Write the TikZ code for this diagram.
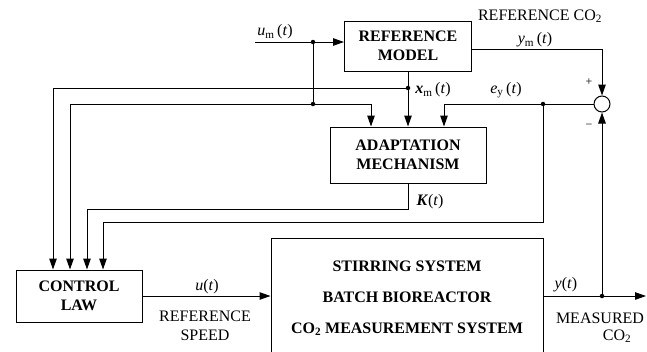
\documentclass[tikz,border=0pt]{standalone}
\usepackage{fontspec}
\setmainfont{Liberation Serif}
\usetikzlibrary{arrows.meta}
\newcommand\fs{\fontsize{16}{19}\selectfont}
\begin{document}
\begin{tikzpicture}[x=1pt,y=-1pt,
  every node/.style={font=\fs},
  box/.style={draw, line width=1pt, font=\fs\bfseries, align=center, inner sep=0pt},
  wire/.style={line width=1pt},
  arr/.style={wire, -{Triangle[length=11pt,width=7.5pt]}},
  dot/.style={circle, fill, inner sep=0pt, minimum size=4.5pt},
  lbl/.style={inner sep=0pt, align=center}]
\useasboundingbox (0,0) rectangle (647,351);

% blocks
\node[box, minimum width=127pt, minimum height=50pt] (ref) at (408,46) {REFERENCE\\MODEL};
\node[box, minimum width=156pt, minimum height=56pt] (ad) at (408,155) {ADAPTATION\\MECHANISM};
\node[box, minimum width=126pt, minimum height=52pt] (cl) at (79,296) {CONTROL\\LAW};
\node[box, minimum width=272pt, minimum height=120pt] (pl) at (407,298)
  {STIRRING SYSTEM\\[12pt]BATCH BIOREACTOR\\[12pt]CO\textsubscript{2} MEASUREMENT SYSTEM};
\node[draw, circle, line width=1pt, minimum size=16pt, inner sep=0pt] (sum) at (602,104) {};

% junctions
\node[dot] (d1) at (313,42) {};
\node[dot] (d2) at (313,104) {};
\node[dot] (d3) at (408,88) {};
\node[dot] (d4) at (543,104) {};
\node[dot] (d5) at (602,296) {};

\coordinate (umin) at (255,42);
\coordinate (yout) at (646,296);
\coordinate (a1) at (371,104);
\coordinate (a3) at (444,104);
\coordinate (c1) at (53,88);
\coordinate (c2) at (70,104);
\coordinate (c3) at (87,209);
\coordinate (c4) at (103,222);
\coordinate (k1) at (408,209);
\coordinate (e1) at (543,222);
\coordinate (ym) at (602,49);

% connectors
\draw[arr] (umin) -- (umin -| ref.west);
\draw[wire] (d1) -- (d2);
\draw[arr] (d2) -- (a1) -- (a1 |- ad.north);
\draw[arr] (d2) -- (c2) -- (c2 |- cl.north);
\draw[arr] (ref.south) -- (ad.north);
\draw[arr] (d3) -- (c1) -- (c1 |- cl.north);
\draw[arr] (ym -| ref.east) -- (ym) -- (sum.north);
\draw[arr] (sum.west) -- (a3) -- (a3 |- ad.north);
\draw[arr] (d4) -- (e1) -- (c4) -- (c4 |- cl.north);
\draw[arr] (ad.south) -- (k1) -- (c3) -- (c3 |- cl.north);
\draw[arr] (cl.east) -- (cl.east -| pl.west);
\draw[arr] (yout -| pl.east) -- (yout);
\draw[arr] (d5) -- (sum.south);

% labels
\node[lbl] (lum) at (275,32) {\textit{u}\textsubscript{m}\,(\textit{t})};
\node[lbl] (lrc) at (540,16) {REFERENCE CO\textsubscript{2}};
\node[lbl] (lym) at (535,40) {\textit{y}\textsubscript{m}\,(\textit{t})};
\node[lbl] (lxm) at (433,90) {\textbf{\textit{x}}\textsubscript{m}\,(\textit{t})};
\node[lbl] (ley) at (506,90) {\textit{e}\textsubscript{y}\,(\textit{t})};
\node[lbl, font=\fontsize{12}{14}\selectfont] (lp) at (589,82) {+};
\node[lbl, font=\fontsize{12}{14}\selectfont] (lm) at (589,126) {−};
\node[lbl] (lk) at (430,202) {\textbf{\textit{K}}(\textit{t})};
\node[lbl] (lu) at (207,287) {\textit{u}(\textit{t})};
\node[lbl] (lrs) at (205,326) {REFERENCE\\SPEED};
\node[lbl] (ly) at (566,285) {\textit{y}(\textit{t})};
\node[lbl] (lms) at (600,318) {MEASURED};
\node[lbl] (lco) at (617,336) {CO\textsubscript{2}};
\end{tikzpicture}
\end{document}
